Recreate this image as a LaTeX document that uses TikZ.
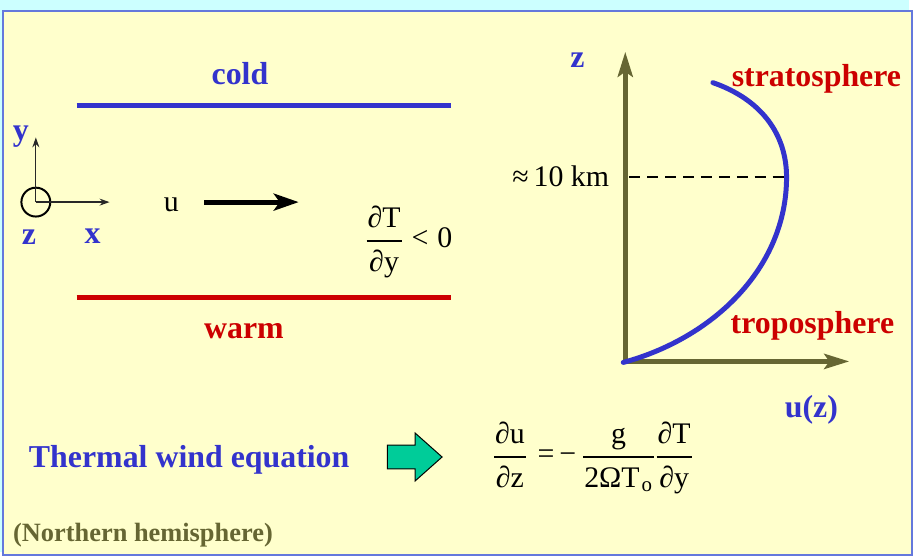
\documentclass[tikz,border=0pt]{standalone}
\usepackage{fontspec}
\setmainfont{Liberation Serif}[BoldFont={Liberation Serif Bold}]
\usepackage{tikz}
\usetikzlibrary{arrows.meta, positioning}
\definecolor{myblue}{RGB}{51,51,204}
\definecolor{myred}{RGB}{204,0,0}
\definecolor{myolive}{RGB}{102,102,51}
\definecolor{mydark}{RGB}{40,40,40}
\definecolor{mygreen}{RGB}{0,204,153}
\definecolor{hdrcyan}{RGB}{204,255,255}
\definecolor{hdryellow}{RGB}{255,255,204}
\definecolor{myframe}{RGB}{100,120,220}
\newcommand{\pfrac}[2]{{\renewcommand{\arraystretch}{1.2}\setlength{\arrayrulewidth}{1.4bp}%
  \begin{tabular}{@{\hspace{1bp}}c@{\hspace{1bp}}}#1\\\hline #2\end{tabular}}}
\tikzset{
  lbl/.style={font=\fontsize{32bp}{36bp}\selectfont\bfseries, inner sep=0pt},
  bluelbl/.style={lbl, text=myblue},
  redlbl/.style={lbl, text=myred},
  eqn/.style={font=\fontsize{30bp}{36bp}\selectfont, inner sep=0pt},
  front/.style={line width=5bp},
  axis/.style={{Stealth[length=25bp,width=15bp,inset=5bp]}-{Stealth[length=25bp,width=15bp,inset=5bp]},
    line width=5bp, color=myolive},
  thinaxis/.style={-{Stealth[length=10bp,width=7bp]}, line width=1.3bp, color=mydark},
  arrow/.style={-{Stealth[length=25bp,width=17bp,inset=6bp]}, line width=5bp},
  profile/.style={line width=5bp, color=myblue, line cap=round},
  blockarrow/.style={draw=black, line width=1bp, fill=mygreen}
}
\begin{document}
\begin{tikzpicture}[x=1bp, y=-1bp]
  % Frame
  \fill[hdrcyan] (0,0) rectangle (913,554);
  \draw[myframe, line width=2bp, fill=hdryellow] (3,11) rectangle (916,557);
  \useasboundingbox (0,0) rectangle (913,554);

  % Fronts
  \coordinate (cw) at (77,106);
  \coordinate (ce) at (453,106);
  \coordinate (ww) at (77,299);
  \coordinate (we) at (453,299);
  \draw[front, myblue] (cw) -- (ce);
  \draw[front, myred] (ww) -- (we);
  \node[bluelbl, anchor=base] (cold) at (241,85) {cold};
  \node[redlbl, anchor=base] (warm) at (245,340) {warm};

  % Coordinate system
  \coordinate (o) at (36,203);
  \coordinate (ytip) at (36,138);
  \coordinate (xtip) at (110,203);
  \node[circle, draw=black, line width=2bp, minimum size=29bp, inner sep=0pt] (zc) at (o) {};
  \draw[thinaxis] (o) -- (ytip);
  \draw[thinaxis] (o) -- (xtip);
  \node[bluelbl, anchor=base] (ylbl) at (21,141) {y};
  \node[bluelbl, anchor=base] (zlbl) at (29,246) {z};
  \node[bluelbl, anchor=base] (xlbl) at (93,245) {x};

  % Wind
  \node[eqn, anchor=base] (u) at (172,212) {u};
  \coordinate (ua) at (205,203);
  \coordinate (ub) at (300,203);
  \draw[arrow] (ua) -- (ub);
  \node[eqn, anchor=west] (dTdy) at (368,242) {\pfrac{∂T}{∂y}\hspace{10bp}<\hspace{9bp}0};

  % Profile
  \coordinate (O) at (628,363);
  \coordinate (ztop) at (628,52);
  \coordinate (uend) at (853,363);
  \draw[axis] (ztop) -- (O) -- (uend);
  \node[bluelbl, anchor=base] (zax) at (580,68) {z};
  \node[bluelbl, anchor=base] (uz) at (815,419) {u(z)};
  \coordinate (s0) at (626,364);
  \coordinate (s1) at (790,178);
  \coordinate (s2) at (716,83);
  \coordinate (h0) at (632,178);
  \draw[black, line width=2.2bp, dash pattern=on 11bp off 7bp] (h0) -- (s1);
  \draw[profile] (s0) .. controls (715,340) and (790,270) .. (s1)
    .. controls (790,135) and (765,100) .. (s2);
  \node[eqn, anchor=base east] (km) at (612,187) {≈\,10 km};
  \node[redlbl, anchor=base] (strat) at (820,87) {stratosphere};
  \node[redlbl, anchor=base] (trop) at (816,335) {troposphere};

  % Equation
  \node[bluelbl, anchor=base] (twe) at (190,470) {Thermal wind equation};
  \draw[blockarrow] (389,447) -- (417,447) -- (417,435) -- (444,459)
    -- (417,483) -- (417,471) -- (389,471) -- cycle;
  \node[eqn, anchor=west] (eq) at (496,459)
    {\pfrac{∂u}{∂z}\hspace{12bp}=\hspace{5bp}−\hspace{7bp}\pfrac{g}{2ΩT\hspace{2bp}\textsubscript{o}}\hspace{3bp}\pfrac{∂T}{∂y}};
  \node[lbl, text=myolive, font=\fontsize{26.5bp}{30bp}\selectfont\bfseries, anchor=base west] (nh) at (13,544) {(Northern hemisphere)};
\end{tikzpicture}
\end{document}
